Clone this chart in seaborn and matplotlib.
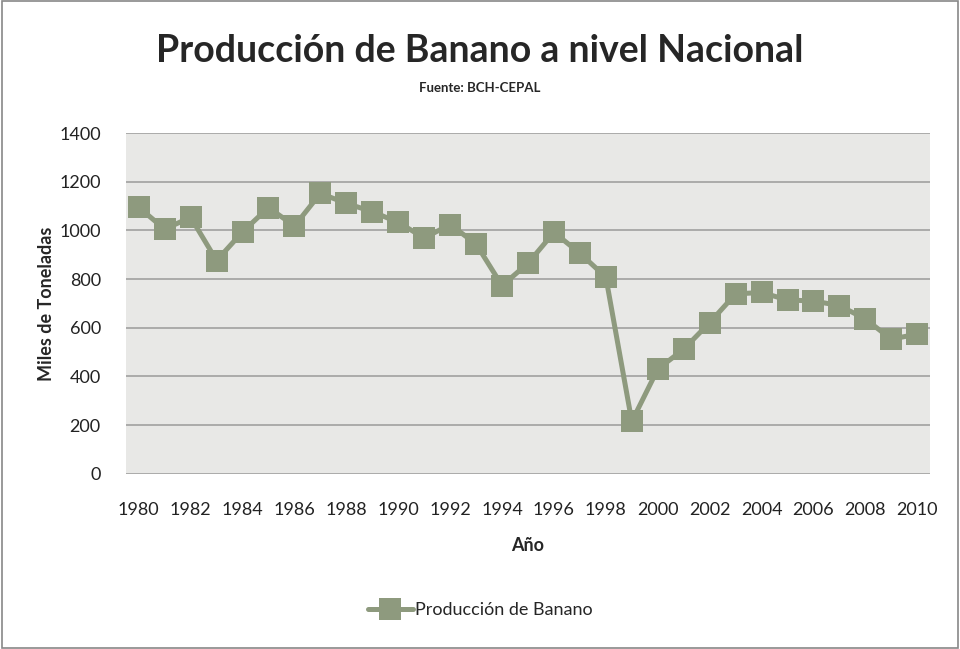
import pandas as pd
import seaborn as sns
import matplotlib.pyplot as plt
from matplotlib.patches import Rectangle

# Producción de banano (miles de toneladas)
years = list(range(1980, 2011))
production = [1095, 1005, 1054, 876, 994, 1094, 1018, 1152, 1111, 1077,
              1033, 969, 1024, 944, 773, 865, 992, 906, 808, 215,
              430, 512, 621, 739, 745, 714, 710, 691, 636, 553, 574]
series_name = 'Producción de Banano'
y_ticks = [0, 200, 400, 600, 800, 1000, 1200, 1400]
x_ticks = list(range(1980, 2011, 2))

df = pd.DataFrame({'Año': years, 'Miles de Toneladas': production, 'serie': series_name})

sns.set_style('white')
plt.rcParams['font.family'] = ['Lato', 'DejaVu Sans']

color = '#8e9a7e'
fig = plt.figure(figsize=(9.6, 6.49), dpi=100)
ax = fig.add_axes([0.131, 0.270, 0.838, 0.525])
ax.set_facecolor('#e8e8e6')

sns.lineplot(data=df, x='Año', y='Miles de Toneladas', hue='serie',
             palette=[color], marker='s', markersize=15.5, linewidth=3.6,
             markeredgewidth=0, ax=ax, zorder=3)

ax.set_xlim(1979.5, 2010.5)
ax.set_ylim(0, 1400)
ax.set_yticks(y_ticks)
ax.set_xticks(x_ticks)
ax.yaxis.grid(True, color='#a0a0a0', linewidth=1.2)
ax.set_axisbelow(True)
for s in ax.spines.values():
    s.set_visible(False)
ax.tick_params(axis='both', length=0, labelsize=13, colors='#222222')
ax.tick_params(axis='y', pad=18)
ax.tick_params(axis='x', pad=20)

ax.set_xlabel('Año', fontsize=13, fontweight='bold', labelpad=14)
ax.set_ylabel('Miles de Toneladas', fontsize=13, fontweight='bold', labelpad=3)

fig.text(0.5, 0.922, 'Producción de Banano a nivel Nacional', ha='center', va='center',
         fontsize=27, fontweight='bold')
fig.text(0.5, 0.864, 'Fuente: BCH-CEPAL', ha='center', va='center',
         fontsize=9.5, fontweight='bold')

leg = ax.legend(loc='center', bbox_to_anchor=(0.5, 0.06), bbox_transform=fig.transFigure,
                frameon=False, fontsize=13, handlelength=2.5, handletextpad=0.1)

fig.patches.append(Rectangle((0.002, 0.002), 0.996, 0.996, transform=fig.transFigure,
                             fill=False, edgecolor='#888888', linewidth=1.2))

fig.savefig('out.png', dpi=100, facecolor='white')
